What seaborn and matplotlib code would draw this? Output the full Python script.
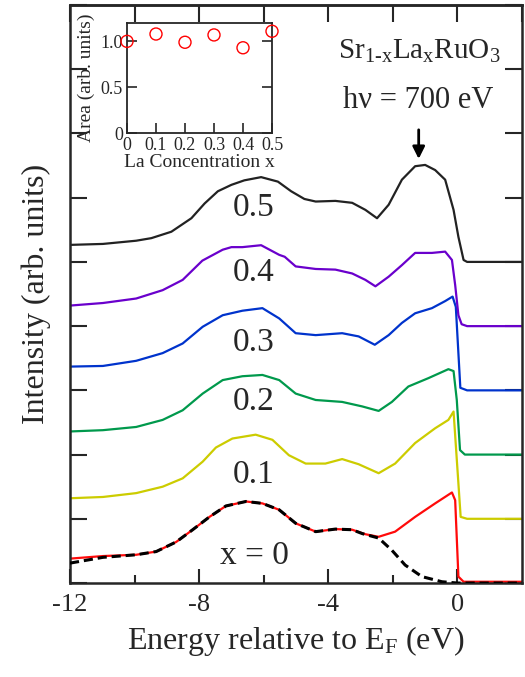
import numpy as np
import pandas as pd
import seaborn as sns
import matplotlib
matplotlib.use("Agg")
import matplotlib.pyplot as plt
from matplotlib.ticker import FixedLocator, FixedFormatter

# spectra: energy (eV) and intensity in y-tick units (offset not included)
e_x00 = [-12, -10.98, -9.95, -9.33, -8.71, -8.2, -7.68, -7.17, -6.55, -6.04, -5.52, -5.01,
         -4.39, -3.78, -3.26, -2.85, -2.44, -1.93, -1.31, -0.69, -0.17, -0.07, 0.03, 0.19, 2.0]
i_x00 = [0.38, 0.42, 0.44, 0.49, 0.64, 0.83, 1.03, 1.20, 1.27, 1.24, 1.14, 0.93,
         0.80, 0.84, 0.83, 0.76, 0.72, 0.80, 1.03, 1.24, 1.41, 1.29, 0.10, 0.02, 0.02]

e_fit = [-12, -10.98, -9.95, -9.33, -8.71, -8.2, -7.68, -7.17, -6.55, -6.04, -5.52, -5.01,
         -4.39, -3.78, -3.26, -2.95, -2.44, -2.03, -1.62, -1.1, -0.48, 0.0, 2.0]
i_fit = [0.31, 0.40, 0.44, 0.49, 0.64, 0.83, 1.03, 1.20, 1.27, 1.24, 1.14, 0.93,
         0.80, 0.84, 0.83, 0.77, 0.70, 0.51, 0.28, 0.10, 0.02, 0.0, 0.0]

e_x01 = [-12, -10.98, -9.95, -9.13, -8.51, -7.89, -7.48, -6.97, -6.25, -5.73, -5.22, -4.7,
         -4.09, -3.57, -3.06, -2.44, -1.93, -1.31, -0.69, -0.28, -0.12, 0.1, 0.3, 2.0]
i_x01 = [0.32, 0.34, 0.40, 0.50, 0.63, 0.89, 1.11, 1.25, 1.31, 1.23, 0.99, 0.86,
         0.86, 0.93, 0.85, 0.71, 0.86, 1.18, 1.41, 1.54, 1.67, 0.03, 0.0, 0.0]

e_x02 = [-12, -10.98, -9.95, -9.13, -8.51, -7.89, -7.27, -6.66, -6.04, -5.52, -5.01, -4.39,
         -3.57, -2.95, -2.44, -2.03, -1.52, -0.9, -0.28, -0.12, -0.02, 0.08, 0.23, 2.0]
i_x02 = [0.36, 0.38, 0.43, 0.54, 0.69, 0.95, 1.16, 1.22, 1.24, 1.16, 0.95, 0.85,
         0.82, 0.75, 0.68, 0.82, 1.06, 1.19, 1.33, 1.30, 0.85, 0.07, 0.0, 0.0]

e_x03 = [-12, -10.98, -9.95, -9.13, -8.51, -7.89, -7.27, -6.66, -6.04, -5.52, -5.01, -4.39,
         -3.57, -3.06, -2.56, -2.13, -1.72, -1.31, -0.79, -0.38, -0.15, -0.05, 0.09, 0.3, 2.0]
i_x03 = [0.37, 0.38, 0.46, 0.58, 0.73, 0.99, 1.17, 1.24, 1.28, 1.12, 0.89, 0.86,
         0.89, 0.84, 0.71, 0.86, 1.05, 1.20, 1.28, 1.39, 1.46, 1.30, 0.04, 0.0, 0.0]

e_x04 = [-12, -10.98, -9.95, -9.13, -8.51, -7.9, -7.27, -7.0, -6.66, -6.08, -5.52, -5.35,
         -5.01, -4.39, -3.78, -3.26, -2.85, -2.54, -2.13, -1.72, -1.31, -0.79, -0.38, -0.17,
         -0.07, 0.03, 0.13, 0.3, 2.0]
i_x04 = [0.32, 0.36, 0.43, 0.56, 0.72, 1.02, 1.19, 1.23, 1.23, 1.26, 1.11, 1.08,
         0.93, 0.89, 0.88, 0.82, 0.72, 0.62, 0.77, 0.95, 1.14, 1.14, 1.16, 1.03,
         0.64, 0.17, 0.03, 0.0, 0.0]

e_x05 = [-12, -10.98, -9.95, -9.48, -8.86, -8.24, -7.83, -7.42, -7.0, -6.6, -6.08, -5.56,
         -5.15, -4.74, -4.39, -3.78, -3.26, -2.85, -2.49, -2.13, -1.72, -1.31, -1.0, -0.69,
         -0.38, -0.12, 0.03, 0.19, 0.3, 2.0]
i_x05 = [0.265, 0.28, 0.33, 0.37, 0.47, 0.68, 0.91, 1.10, 1.20, 1.27, 1.32, 1.25,
         1.10, 0.98, 0.94, 0.95, 0.92, 0.81, 0.68, 0.89, 1.28, 1.49, 1.51, 1.43,
         1.28, 0.81, 0.39, 0.03, 0.0, 0.0]

curve_labels = ["x = 0", "0.1", "0.2", "0.3", "0.4", "0.5"]
curve_offsets = [0, 1, 2, 3, 4, 5]
curve_colors = ["#ff0a0a", "#cccc00", "#00994c", "#0033cc", "#6a00cc", "#222222"]

# inset: integrated area vs La concentration
la_conc = [0.0, 0.1, 0.2, 0.3, 0.4, 0.5]
area = [1.00, 1.08, 0.99, 1.07, 0.93, 1.11]

sns.set_theme(style="ticks")
plt.rcParams["font.family"] = ["Liberation Serif", "DejaVu Serif"]
plt.rcParams["mathtext.fontset"] = "custom"
plt.rcParams["mathtext.rm"] = "Liberation Serif"
plt.rcParams["mathtext.it"] = "Liberation Serif:italic"
plt.rcParams["axes.unicode_minus"] = False

fig = plt.figure(figsize=(5.25, 6.77), dpi=100)
ax = fig.add_axes([0.1333, 0.1388, 0.861, 0.8538])

spectra = [(e_x00, i_x00), (e_x01, i_x01), (e_x02, i_x02),
           (e_x03, i_x03), (e_x04, i_x04), (e_x05, i_x05)]
for (e, i), off, c in zip(spectra, curve_offsets, curve_colors):
    df = pd.DataFrame({"E": e, "I": np.array(i) + off})
    sns.lineplot(data=df, x="E", y="I", ax=ax, color=c, lw=1.6, sort=False, estimator=None)

# fit to the x = 0 spectrum
fit_df = pd.DataFrame({"E": e_fit, "I": i_fit})
sns.lineplot(data=fit_df, x="E", y="I", ax=ax, color="black", lw=2.2, sort=False,
             estimator=None, zorder=5)
ax.lines[-1].set_dashes((3, 1.6))

label_pos_y = [0.42, 1.68, 2.82, 3.74, 4.83, 5.84]
for lab, y in zip(curve_labels, label_pos_y):
    ax.text(-6.3, y, lab, fontsize=24, ha="center", va="center")

ax.text(1.35, 8.27, "Sr$_{\\mathrm{1\u2010x}}$La$_{\\mathrm{x}}$RuO$_{3}$", fontsize=21,
        ha="right", va="center")
ax.text(1.12, 7.52, "h\u03bd = 700 eV", fontsize=22, ha="right", va="center")
ax.annotate("", xy=(-1.2, 6.56), xytext=(-1.2, 7.1),
            arrowprops=dict(arrowstyle="-|>", color="black", lw=2, mutation_scale=18))

ax.set_xlim(-12, 2)
ax.set_ylim(0, 9)
ax.xaxis.set_major_locator(FixedLocator([-12, -8, -4, 0]))
ax.xaxis.set_major_formatter(FixedFormatter(["-12", "-8", "-4", "0"]))
ax.xaxis.set_minor_locator(FixedLocator([-10, -6, -2]))
ax.set_yticks(range(0, 10))
ax.set_yticklabels([])
ax.tick_params(axis="x", which="major", direction="in", length=10, width=1.5,
               labelsize=19, pad=8)
ax.tick_params(axis="x", which="minor", direction="in", length=6, width=1.5)
ax.tick_params(axis="y", which="major", direction="in", length=12, width=1.5,
               left=True, right=True)
top = ax.secondary_xaxis("top")
top.set_xticks(range(-12, 3, 2))
top.tick_params(direction="in", length=12, width=1.5, labeltop=False)
top.spines["top"].set_linewidth(1.8)
for s in ax.spines.values():
    s.set_linewidth(1.8)
ax.set_xlabel(r"Energy relative to E$_{\mathrm{F}}$ (eV)", fontsize=23, labelpad=6)
ax.set_ylabel("Intensity (arb. units)", fontsize=23, labelpad=10)

# inset
ins = fig.add_axes([0.2419, 0.8035, 0.2762, 0.1625])
ins.set_facecolor("white")
sns.scatterplot(x=la_conc, y=area, ax=ins, marker="o", s=75, facecolors="none",
                edgecolors="#ff0000", linewidth=1.0, clip_on=False, zorder=5)
ins.set_xlim(0, 0.5)
ins.set_ylim(0, 1.2)
ins.set_xticks([0, 0.1, 0.2, 0.3, 0.4, 0.5])
ins.set_xticklabels(["0", "0.1", "0.2", "0.3", "0.4", "0.5"])
ins.set_yticks([0, 0.5, 1.0])
ins.set_yticklabels(["0", "0.5", "1.0"])
ins.tick_params(direction="in", length=7, width=1.2, labelsize=13, pad=3,
                left=True, right=True, bottom=True, top=False)
for s in ins.spines.values():
    s.set_linewidth(1.3)
ins.set_xlabel("La Concentration x", fontsize=14, labelpad=0)
ins.set_ylabel("Area (arb. units)", fontsize=14, labelpad=4)

fig.savefig("out.png", dpi=100)
